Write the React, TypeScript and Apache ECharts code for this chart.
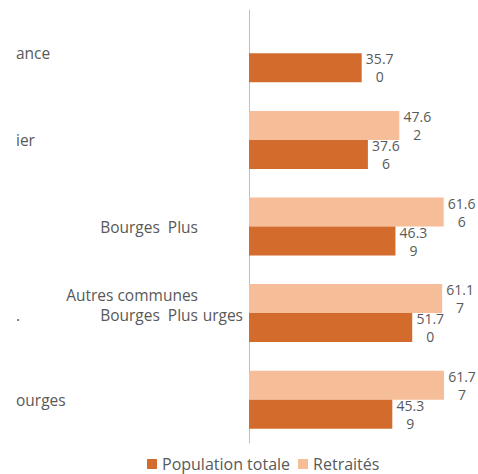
import React, { useEffect, useRef } from "react";
import * as echarts from "echarts";

const categories = ["France", "Cher", "Bourges Plus", "Autres communes Bourges Plus", "Bourges"];
const seriesNames = ["Population totale", "Retraités"];
const populationTotale = [35.7, 37.66, 46.39, 51.7, 45.39];
const retraites: (number | null)[] = [null, 47.62, 61.66, 61.17, 61.77];

const FONT = "'Open Sans', sans-serif";
const GREY = "#595959";

const tok = (width: number, align: string, extra: any = {}) => ({
  width,
  align,
  fontSize: 15.5,
  fontFamily: FONT,
  color: GREY,
  lineHeight: 20,
  ...extra,
});

const labelFor = (idx: number): string => {
  switch (idx) {
    case 0:
      return "{l|ance}";
    case 1:
      return "{l|ier}";
    case 2:
      return "{r|Bourges  Plus}{p| }";
    case 3:
      return "{r|Autres communes}{p| }\n{d|.}{r2|Bourges  Plus}{u|urges}\n{e| }";
    default:
      return "{l|ourges}";
  }
};

export default function App() {
  const ref = useRef<HTMLDivElement>(null);
  useEffect(() => {
    if (!ref.current) return;
    const chart = echarts.init(ref.current, null, { renderer: "svg" });
    const barLabel = {
      show: true,
      position: "right",
      distance: 18,
      align: "center",
      verticalAlign: "middle",
      color: GREY,
      fontSize: 14,
      lineHeight: 18,
      fontFamily: FONT,
      formatter: (p: any) => {
        const s = Number(p.value).toFixed(2);
        return s.slice(0, 4) + "\n" + s.slice(4);
      },
    };
    chart.setOption({
      animation: false,
      grid: { left: 249, top: 10, bottom: 31, right: 8 },
      legend: {
        data: seriesNames,
        left: 142,
        top: 451,
        icon: "rect",
        itemWidth: 10,
        itemHeight: 10,
        itemGap: 8,
        textStyle: { fontSize: 16, color: GREY, fontFamily: FONT },
      },
      xAxis: {
        type: "value",
        min: 0,
        max: 70,
        show: false,
      },
      yAxis: {
        type: "category",
        inverse: true,
        data: categories,
        axisLine: { show: true, lineStyle: { color: "#BFBFBF", width: 1 } },
        axisTick: { show: false },
        splitLine: { show: false },
        axisLabel: {
          margin: 6,
          align: "right",
          verticalAlign: "middle",
          formatter: (_v: string, idx: number) => labelFor(idx),
          rich: {
            l: tok(227, "left"),
            r: tok(182, "right"),
            p: tok(45, "right"),
            d: tok(84, "left"),
            r2: tok(98, "right"),
            u: tok(45, "right"),
            e: tok(227, "left", { lineHeight: 16 }),
          },
        },
      },
      series: [
        {
          name: seriesNames[1],
          type: "bar",
          data: retraites,
          barWidth: 29,
          barGap: "0%",
          itemStyle: { color: "#F5BE98" },
          label: barLabel,
        },
        {
          name: seriesNames[0],
          type: "bar",
          data: populationTotale,
          barWidth: 29,
          barGap: "0%",
          itemStyle: { color: "#D26B2B" },
          label: barLabel,
        },
      ],
    });
    return () => chart.dispose();
  }, []);
  return (
    <div
      ref={ref}
      style={{ position: "fixed", left: 0, top: 0, width: 478, height: 474, background: "#fff" }}
    />
  );
}
